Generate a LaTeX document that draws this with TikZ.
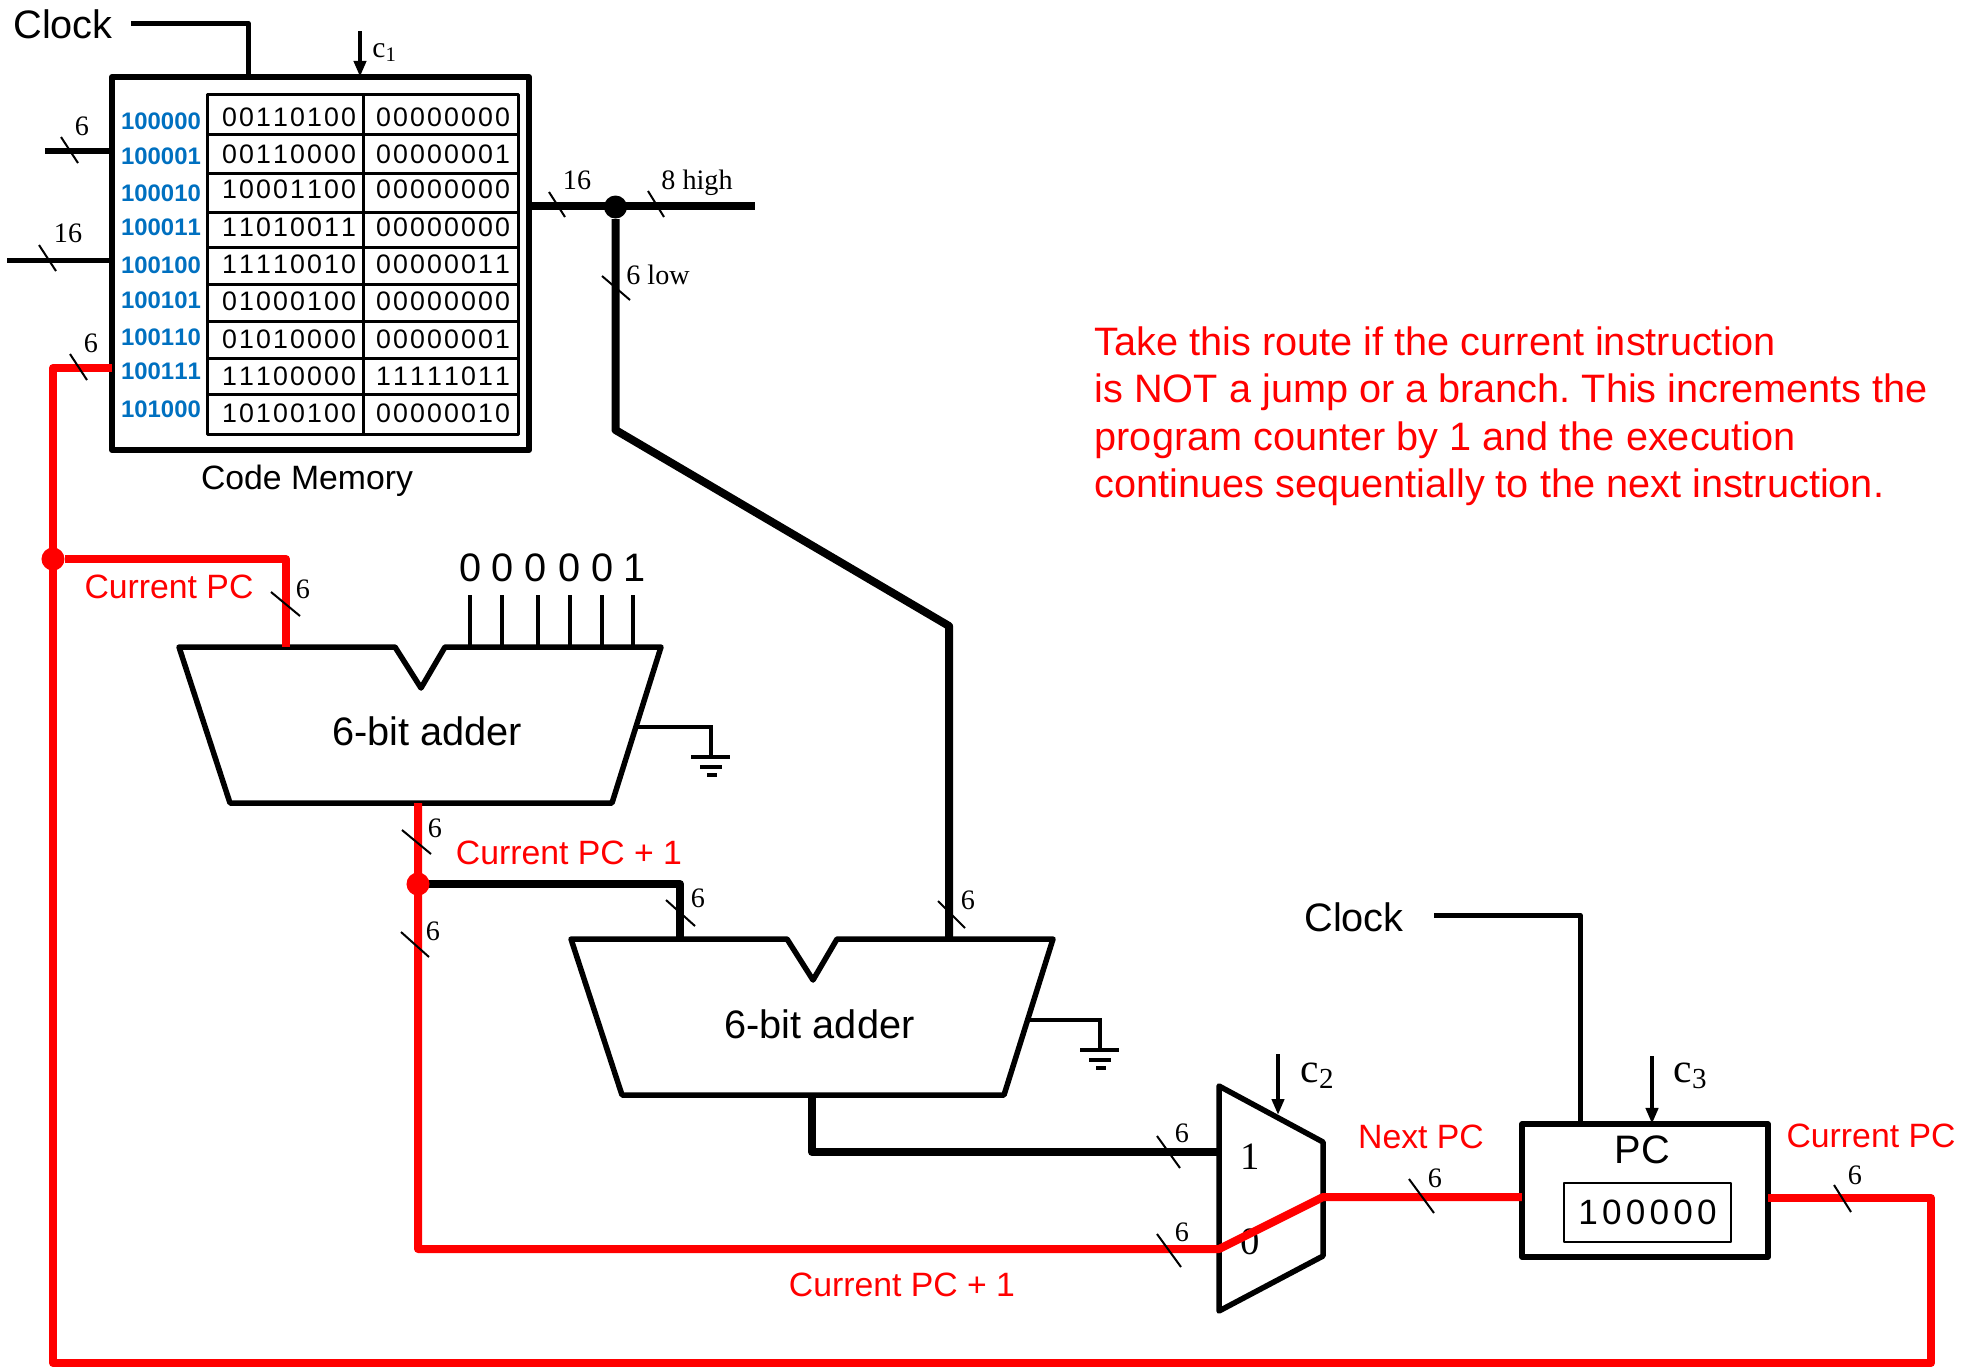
\documentclass[tikz,border=0pt]{standalone}
\usepackage{fontspec}
\usepackage{xcolor}
\usepackage{tikz}
\usetikzlibrary{arrows.meta,positioning,calc}
\setmainfont{Liberation Sans}
\newfontfamily\serifface{Liberation Serif}
\newfontfamily\spacedface[LetterSpace=8,Kerning=Off]{Liberation Sans}
\newfontfamily\regface[LetterSpace=12,Kerning=Off]{Liberation Sans}
\newfontfamily\addrface[Kerning=Off]{Liberation Sans}
\definecolor{AddrBlue}{HTML}{0070C0}
\definecolor{RouteRed}{HTML}{FF0000}
\frenchspacing

\begin{document}
\begin{tikzpicture}[
    x=0.01cm, y=-0.01cm,
    title/.style={font=\fontsize{11.3}{13}\selectfont},
    redlabel/.style={text=RouteRed, font=\fontsize{9.6}{11}\selectfont},
    width/.style={font=\serifface\fontsize{8}{9}\selectfont, inner sep=0pt},
    ctrllabel/.style={font=\serifface\fontsize{8.4}{9}\selectfont, inner sep=0pt},
    ctrlbig/.style={font=\serifface\fontsize{11.8}{13}\selectfont, inner sep=0pt},
    addr/.style={text=AddrBlue, font=\addrface\fontsize{6.8}{8}\bfseries\selectfont, inner sep=0pt},
    cell/.style={font=\spacedface\fontsize{7.6}{9}\selectfont, inner sep=0pt},
    box/.style={rectangle, draw=black, line width=0.55mm, line join=round, outer sep=0pt},
    block/.style={draw=black, line width=0.55mm, line join=round},
    gridline/.style={draw=black, line width=0.3mm},
    bus/.style={draw=black, line width=0.8mm, line join=round},
    busred/.style={draw=RouteRed, line width=0.8mm, line join=round},
    sig/.style={draw=black, line width=0.5mm, line join=round},
    pin/.style={draw=black, line width=0.35mm},
    slash/.style={draw=black, line width=0.2mm},
    ctrl/.style={-{Triangle[length=1.6mm,width=1.2mm]}, draw=black, line width=0.45mm},
    gnd/.style={draw=black, line width=0.4mm},
    dotblack/.style={circle, fill=black, minimum size=2.3mm, inner sep=0pt},
    dotred/.style={circle, fill=RouteRed, minimum size=2.3mm, inner sep=0pt}
]
\useasboundingbox (0,0) rectangle (1979,1366);

% code memory
\node[box, minimum width=4.17cm, minimum height=3.73cm] (codemem) at (320.5,263.5) {};
\node[box, line width=0.3mm, minimum width=3.10cm, minimum height=3.39cm] (table) at (363,264.5) {};
\draw[gridline] (table.north) -- (table.south);
\draw[gridline] (208,134) -- (518,134);
\draw[gridline] (208,173) -- (518,173);
\draw[gridline] (208,212) -- (518,212);
\draw[gridline] (208,247) -- (518,247);
\draw[gridline] (208,284) -- (518,284);
\draw[gridline] (208,321) -- (518,321);
\draw[gridline] (208,358) -- (518,358);
\draw[gridline] (208,394) -- (518,394);

\node[addr] (a0) at (161,121) {100000};
\node[addr] (a1) at (161,156) {100001};
\node[addr] (a2) at (161,193) {100010};
\node[addr] (a3) at (161,227) {100011};
\node[addr] (a4) at (161,265) {100100};
\node[addr] (a5) at (161,300) {100101};
\node[addr] (a6) at (161,337) {100110};
\node[addr] (a7) at (161,371) {100111};
\node[addr] (a8) at (161,409) {101000};

\node[cell] (h0) at (289,117) {00110100};
\node[cell] (h1) at (289,154) {00110000};
\node[cell] (h2) at (289,189) {10001100};
\node[cell] (h3) at (289,227) {11010011};
\node[cell] (h4) at (289,264) {11110010};
\node[cell] (h5) at (289,301) {01000100};
\node[cell] (h6) at (289,339) {01010000};
\node[cell] (h7) at (289,376) {11100000};
\node[cell] (h8) at (289,413) {10100100};
\node[cell] (l0) at (443,117) {00000000};
\node[cell] (l1) at (443,154) {00000001};
\node[cell] (l2) at (443,189) {00000000};
\node[cell] (l3) at (443,227) {00000000};
\node[cell] (l4) at (443,264) {00000011};
\node[cell] (l5) at (443,301) {00000000};
\node[cell] (l6) at (443,339) {00000001};
\node[cell] (l7) at (443,376) {11111011};
\node[cell] (l8) at (443,413) {00000010};

\node[font=\fontsize{9.6}{11}\selectfont] (memname) at (307,481) {Code Memory};
\node[title] (clocka) at (63,24) {Clock};
\coordinate (clockastart) at (131,23);
\coordinate (clockaturn) at (248,23);
\draw[sig] (clockastart) -- (clockaturn) -- (clockaturn |- codemem.north);

\coordinate (cmemtop) at (360,31);
\draw[ctrl] (cmemtop) -- (cmemtop |- codemem.north);
\node[ctrllabel] (cmem) at (385,53) {c\textsubscript{1}};

% memory input wires
\coordinate (addrwire) at (45,151);
\coordinate (datawire) at (7,260);
\draw[bus, line width=0.6mm] (addrwire) -- (addrwire -| codemem.west);
\draw[bus, line width=0.5mm] (datawire) -- (datawire -| codemem.west);
\draw[slash] (61,137) -- (78,163);
\draw[slash] (39,245) -- (56,271);
\node[width] (waddr) at (82,126) {6};
\node[width] (wdata) at (68,233) {16};

% memory output split
\coordinate (outstart) at (codemem.east |- 0,206);
\coordinate (outend) at (755,206);
\coordinate (lowturn) at (618,430);
\coordinate (lowdiag) at (949,626);
\node[dotblack] (split) at (615.5,207) {};
\draw[bus, line width=0.85mm] (outstart) -- (outend);
\draw[bus] (split) -- (split |- lowturn) -- (lowdiag) -- (949,939);
\draw[slash] (549,192) -- (565,217);
\draw[slash] (648,191) -- (664,217);
\draw[slash] (602,276) -- (630,300);
\node[width] (wout) at (577,180) {16};
\node[width] (whigh) at (697,183) {8 high};
\node[width] (wlow) at (658,275) {6 low};

\node[text=RouteRed, anchor=west, align=left, inner sep=0pt, font=\fontsize{11.28}{13.5}\selectfont] (note) at (1094,416)
    {Take this route if the current instruction\\is NOT a jump or a branch. This increments the\\program counter by 1 and the execution\\continues sequentially to the next instruction.};

% first adder
\draw[block] (179,647) -- (395,647) -- (421,688) -- (445,647) -- (661,647) -- (612,803) -- (230,803) -- cycle;
\node[title] (addera) at (427,731) {6-bit adder};
\coordinate (pinzero) at (470,595);
\coordinate (pinone) at (502,595);
\coordinate (pintwo) at (538,595);
\coordinate (pinthree) at (570,595);
\coordinate (pinfour) at (602,595);
\coordinate (pinfive) at (633,595);
\draw[pin] (pinzero) -- (470,647);
\draw[pin] (pinone) -- (502,647);
\draw[pin] (pintwo) -- (538,647);
\draw[pin] (pinthree) -- (570,647);
\draw[pin] (pinfour) -- (602,647);
\draw[pin] (pinfive) -- (633,647);
\node[title] (bzero) at (470.5,568) {0};
\node[title] (bone) at (503,568) {0};
\node[title] (btwo) at (536,568) {0};
\node[title] (bthree) at (570,568) {0};
\node[title] (bfour) at (603,568) {0};
\node[title] (bfive) at (635,568) {1};
\coordinate (gndatop) at (711,757);
\draw[gnd] (637,727) -- (711,727) -- (gndatop);
\draw[gnd] (691,757) -- (730,757);
\draw[gnd] (700,767) -- (722,767);
\draw[gnd] (707,775) -- (717,775);

% second adder
\draw[block] (571,939) -- (787,939) -- (813,980) -- (837,939) -- (1053,939) -- (1004,1095) -- (622,1095) -- cycle;
\node[title] (adderb) at (819.5,1024) {6-bit adder};
\coordinate (gndbtop) at (1100,1050);
\draw[gnd] (1029,1020) -- (1100,1020) -- (gndbtop);
\draw[gnd] (1080,1050) -- (1119,1050);
\draw[gnd] (1089,1060) -- (1111,1060);
\draw[gnd] (1096,1068) -- (1106,1068);

% mux
\draw[block] (1219,1086) -- (1323,1142) -- (1323,1256) -- (1219,1311) -- cycle;
\node[font=\serifface\fontsize{11}{13}\selectfont, inner sep=0pt] (muxone) at (1250,1157) {1};
\node[font=\serifface\fontsize{11}{13}\selectfont, inner sep=0pt] (muxzero) at (1250,1242) {0};
\coordinate (muxin) at (1219,1249);
\coordinate (muxout) at (1323,1197);
\coordinate (cmuxtop) at (1278,1054);
\draw[ctrl] (cmuxtop) -- (1278,1115);
\node[ctrlbig] (cmux) at (1318,1076) {c\textsubscript{2}};

% program counter
\node[box, minimum width=2.46cm, minimum height=1.33cm] (pcbox) at (1645,1190.5) {};
\node[box, line width=0.25mm, minimum width=1.67cm, minimum height=0.59cm, font=\regface\fontsize{10}{12}\selectfont, inner sep=0pt] (pcval) at (1647.5,1212.5) {100000};
\node[title] (pcname) at (1642.5,1150) {PC};
\node[title] (clockb) at (1354,917) {Clock};
\coordinate (clockbstart) at (1434,915);
\coordinate (clockbturn) at (1580,915);
\draw[sig] (clockbstart) -- (clockbturn) -- (clockbturn |- pcbox.north);
\coordinate (cpctop) at (1652,1056);
\draw[ctrl] (cpctop) -- (cpctop |- pcbox.north);
\node[ctrlbig] (cpc) at (1691,1076) {c\textsubscript{3}};

% black routes
\coordinate (addbout) at (812,1095);
\draw[bus] (addbout) -- (812,1152) -- (1219,1152);
\coordinate (carryturn) at (680,884);
\draw[bus] (418,884) -- (carryturn) -- (680,939);
\draw[slash] (666,900) -- (695,926);
\draw[slash] (938,901) -- (965,928);
\draw[slash] (1157,1136) -- (1180,1168);
\node[width] (wcarry) at (698,898) {6};
\node[width] (wlowin) at (968,900) {6};
\node[width] (wmuxone) at (1182,1133) {6};

% red route
\coordinate (memfb) at (codemem.west |- 0,368);
\coordinate (fbcorner) at (53,368);
\coordinate (fbbottom) at (53,1363);
\coordinate (fbright) at (1931,1363);
\coordinate (pcoutturn) at (1931,1198);
\coordinate (addain) at (286,647);
\coordinate (addaout) at (418,803);
\coordinate (pcturn) at (418,1249);
\draw[busred] (memfb) -- (fbcorner) -- (fbbottom) -- (fbright) -- (pcoutturn) -- (pcoutturn -| pcbox.east);
\node[dotred] (fbsplit) at (53,559) {};
\draw[busred] (fbsplit) -- (286,559) -- (addain);
\node[dotred] (incsplit) at (418,884) {};
\draw[busred] (addaout) -- (pcturn) -- (muxin) -- (muxout) -- (pcbox.west |- muxout);

\draw[slash] (70,354) -- (87,380);
\draw[slash] (271,592) -- (300,616);
\draw[slash] (402,830) -- (431,854);
\draw[slash] (401,932) -- (429,957);
\draw[slash] (1157,1234) -- (1181,1267);
\draw[slash] (1409,1179) -- (1434,1213);
\draw[slash] (1834,1185) -- (1851,1212);
\node[width] (wfb) at (91,343) {6};
\node[width] (waddain) at (303,589) {6};
\node[width] (waddaout) at (435,828) {6};
\node[width] (wpcinc) at (433,931) {6};
\node[width] (wmuxzero) at (1182,1232) {6};
\node[width] (wnext) at (1435,1178) {6};
\node[width] (wcur) at (1855,1175) {6};

\node[redlabel] (curtop) at (169,587) {Current PC};
\node[redlabel] (inctop) at (569,853) {Current PC + 1};
\node[redlabel] (incbot) at (902,1285) {Current PC + 1};
\node[redlabel] (nextpc) at (1421,1137) {Next PC};
\node[redlabel] (curpc) at (1871,1136) {Current PC};
\end{tikzpicture}
\end{document}
